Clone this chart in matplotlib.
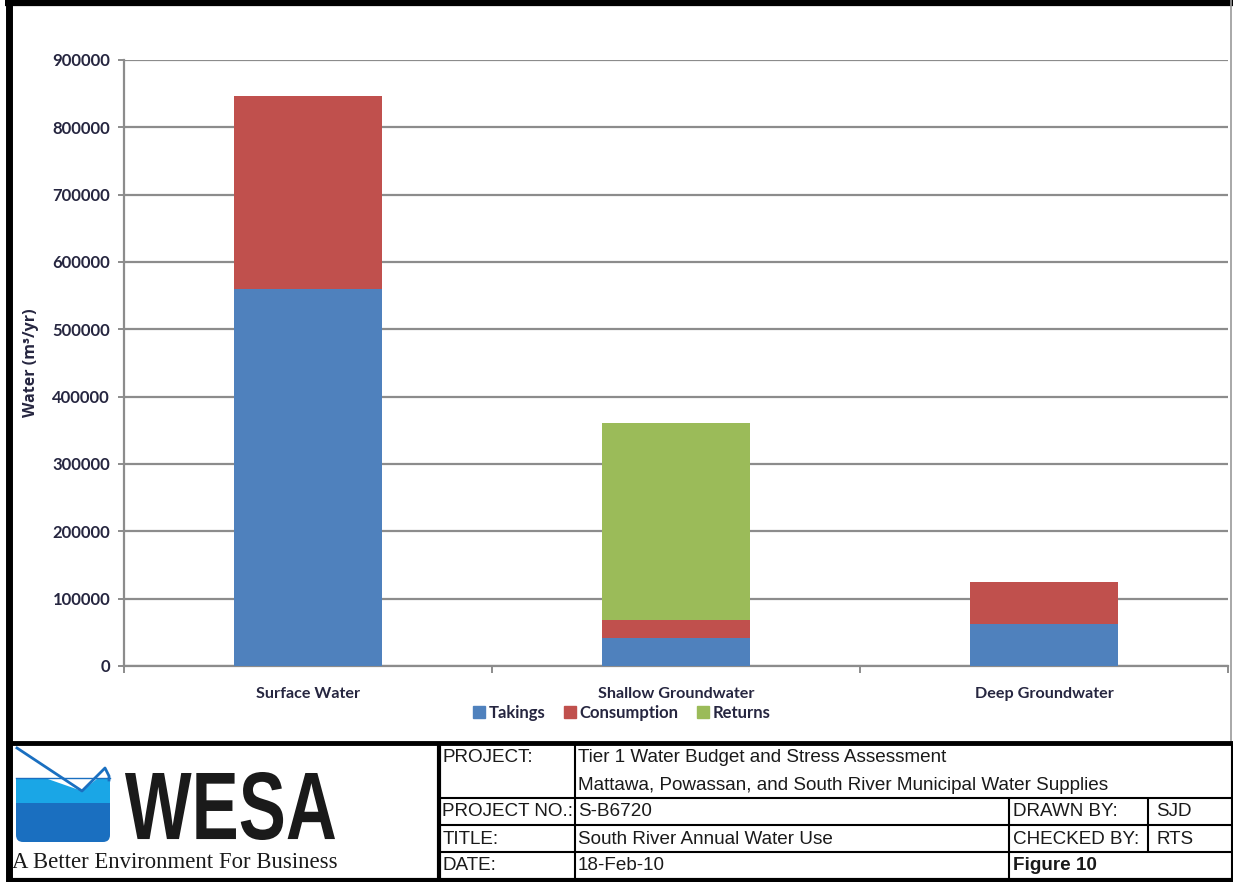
import matplotlib
matplotlib.use("Agg")
import matplotlib.pyplot as plt
import numpy as np
from matplotlib.patches import Rectangle, Polygon, FancyBboxPatch, PathPatch
from matplotlib.textpath import TextPath
from matplotlib.font_manager import FontProperties
from matplotlib.transforms import Affine2D

# data
categories = ["Surface Water", "Shallow Groundwater", "Deep Groundwater"]
takings = [560000, 41500, 62500]
consumption = [286500, 27000, 62000]
returns = [0, 292500, 0]
series_names = ["Takings", "Consumption", "Returns"]
colors = ["#4F81BD", "#C0504D", "#9BBB59"]
yticks = [0, 100000, 200000, 300000, 400000, 500000, 600000, 700000, 800000, 900000]

W, H = 1233, 882
fig = plt.figure(figsize=(W / 100, H / 100), dpi=100)
fig.patch.set_facecolor("white")

# overlay in pixel coordinates for frame and title block
ov = fig.add_axes([0, 0, 1, 1])
ov.set_xlim(0, W)
ov.set_ylim(H, 0)
ov.axis("off")

def hline(y, x0, x1, lw, c="black"):
    ov.plot([x0, x1], [y, y], color=c, lw=lw, solid_capstyle="butt")

def vline(x, y0, y1, lw, c="black"):
    ov.plot([x, x], [y0, y1], color=c, lw=lw, solid_capstyle="butt")

# outer frame
hline(3, 5, W, 4.5)
vline(8.5, 0, H, 5)
vline(1231, 0, 742, 1.2, "#999999")
# title block
hline(742.5, 8, W, 3.5)
hline(879.5, 8, W, 3)
vline(439, 742, 882, 3)
vline(1231.5, 742, 882, 1.5)
hline(797.5, 440, W, 1.5)
hline(824.5, 440, W, 1.5)
hline(851.5, 440, W, 1.5)
vline(575, 742, 880, 1.5)
vline(1009, 797, 880, 1.5)
vline(1148, 797, 852, 1.5)

tc = "#1a1a1a"
tfont = dict(family="Liberation Sans", fontsize=13.6, color=tc, va="center", ha="left")
ov.text(443, 758, "PROJECT:", **tfont)
ov.text(578, 758, "Tier 1 Water Budget and Stress Assessment", **tfont)
ov.text(578, 786, "Mattawa, Powassan, and South River Municipal Water Supplies", **tfont)
ov.text(442, 812, "PROJECT NO.:", **tfont)
ov.text(578, 812, "S-B6720", **tfont)
ov.text(443, 839, "TITLE:", **tfont)
ov.text(578, 839, "South River Annual Water Use", **tfont)
ov.text(443, 866, "DATE:", **tfont)
ov.text(578, 866, "18-Feb-10", **tfont)
ov.text(1013, 812, "DRAWN BY:", **tfont)
ov.text(1156, 812, "SJD", **tfont)
ov.text(1013, 839, "CHECKED BY:", **tfont)
ov.text(1156, 839, "RTS", **tfont)
ov.text(1013, 866, "Figure 10", fontweight="bold", **tfont)

# logo
ov.add_patch(FancyBboxPatch((16, 803), 94, 39, boxstyle="round,pad=0,rounding_size=7",
                            facecolor="#1a6fc0", edgecolor="none"))
ov.add_patch(Rectangle((16, 803), 94, 10, facecolor="#1a6fc0", edgecolor="none"))
ov.add_patch(Rectangle((16, 778), 94, 25, facecolor="#1aa6e6", edgecolor="none"))
ov.add_patch(Polygon([(45, 778), (82, 791), (98, 778)], closed=True,
                     facecolor="white", edgecolor="none"))
ov.plot([17, 82, 105, 109, 109], [748, 791, 768, 776, 780], color="#1a6fc0", lw=2)
ov.plot([16, 110], [778, 778], color="#1a6fc0", lw=1)

# condensed heavy WESA lettering
tp = TextPath((0, 0), "WESA", size=100, prop=FontProperties(family="Liberation Sans", weight="bold"))
bb = tp.get_extents()
sx = 210 / bb.width
sy = 68 / bb.height
tr = Affine2D().translate(-bb.x0, -bb.y0).scale(sx, -sy).translate(125, 840)
ov.add_patch(PathPatch(tr.transform_path(tp), facecolor="#1a1a1a", edgecolor="none"))
ov.text(12, 863, "A Better Environment For Business", family="Liberation Serif",
        fontsize=16.4, color="#1a1a1a", ha="left", va="center")

# chart
ax = fig.add_axes([124 / W, 1 - 666 / H, 1104 / W, 606 / H])
ax.set_zorder(2)
x = np.arange(len(categories))
bw = 0.40
ax.bar(x, takings, bw, color=colors[0], label=series_names[0], zorder=3)
ax.bar(x, consumption, bw, bottom=takings, color=colors[1], label=series_names[1], zorder=3)
bottom2 = np.array(takings) + np.array(consumption)
ax.bar(x, returns, bw, bottom=bottom2, color=colors[2], label=series_names[2], zorder=3)

ax.set_xlim(-0.5, 2.5)
ax.set_ylim(0, 900000)
ax.set_yticks(yticks)
ax.set_yticklabels([str(v) for v in yticks])
ax.yaxis.grid(True, color="#8c8c8c", lw=1.6)
ax.set_axisbelow(True)
for s in ["top", "right"]:
    ax.spines[s].set_visible(False)
for s in ["left", "bottom"]:
    ax.spines[s].set_color("#8c8c8c")
    ax.spines[s].set_linewidth(1.6)

ax.set_xticks([-0.5, 0.5, 1.5, 2.5])
ax.set_xticklabels([])
ax.set_xticks(x, minor=True)
ax.set_xticklabels(categories, minor=True)
ax.tick_params(axis="x", which="major", length=5, width=1.4, color="#8c8c8c")
ax.tick_params(axis="x", which="minor", length=0, pad=15)
ax.tick_params(axis="y", length=4.5, width=1.4, color="#8c8c8c", pad=5.5)

lc = "#262640"
for t in ax.get_yticklabels():
    t.set_fontfamily("Lato")
    t.set_fontweight("bold")
    t.set_fontsize(12)
    t.set_color(lc)
for t in ax.get_xticklabels(minor=True):
    t.set_fontfamily("Lato")
    t.set_fontweight("bold")
    t.set_fontsize(11.6)
    t.set_color(lc)
ax.set_ylabel("Water (m³/yr)", family=["Open Sans", "DejaVu Sans"], fontweight="bold",
              fontsize=11.5, color=lc)
ax.yaxis.set_label_coords(-(124 - 39) / 1104, 0.5)

handles = [Rectangle((0, 0), 1, 1, color=c) for c in colors]
leg = fig.legend(handles, series_names, loc="center", bbox_to_anchor=(622 / W, 1 - 713 / H),
                 ncol=3, frameon=False, handlelength=0.7, handleheight=0.7,
                 handletextpad=0.25, columnspacing=1.1, borderpad=0,
                 prop=dict(family="Lato", weight="bold", size=12))
for t in leg.get_texts():
    t.set_color(lc)

fig.savefig("out.png", dpi=100)
